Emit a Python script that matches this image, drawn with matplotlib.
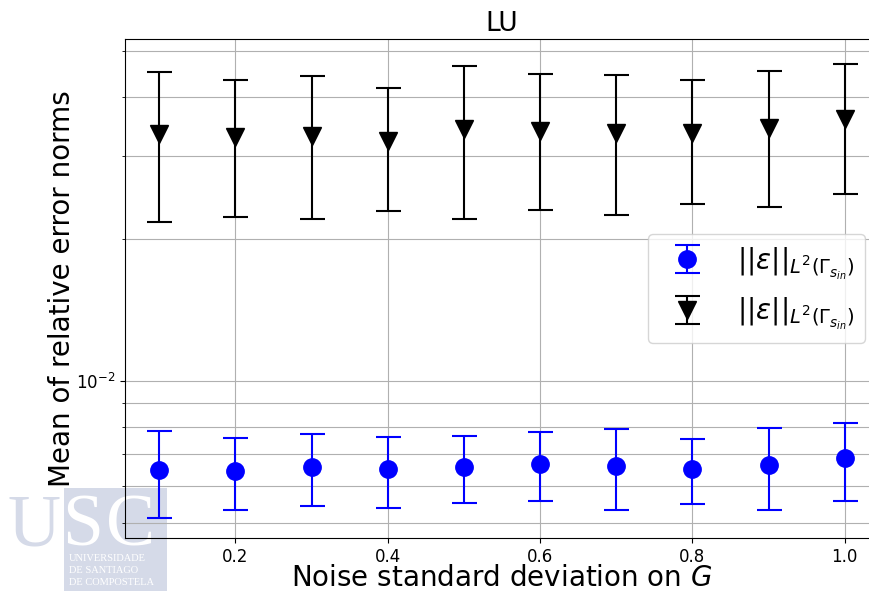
import matplotlib
matplotlib.use("Agg")
import matplotlib.pyplot as plt
from matplotlib.patches import Rectangle
from matplotlib.ticker import NullFormatter

# Noise levels on G
noise_std = [0.1, 0.2, 0.3, 0.4, 0.5, 0.6, 0.7, 0.8, 0.9, 1.0]

# Relative error norms (mean and standard deviation over the runs)
err_blue_mean = [0.00647, 0.00645, 0.00658, 0.00650, 0.00658,
                 0.00668, 0.00662, 0.00651, 0.00664, 0.00686]
err_blue_std = [0.00135, 0.00112, 0.00115, 0.00112, 0.00107,
                0.00111, 0.00129, 0.00102, 0.00130, 0.00128]

err_black_mean = [0.0334, 0.0329, 0.0331, 0.0323, 0.0342,
                  0.0338, 0.0335, 0.0336, 0.0344, 0.0359]
err_black_std = [0.0117, 0.0106, 0.0111, 0.0094, 0.0122,
                 0.0108, 0.0110, 0.0099, 0.0110, 0.0110]

norm_label = r"$||\varepsilon||_{L^2(\Gamma_{s_{in}})}$"

fig = plt.figure(figsize=(8.7, 5.91), dpi=100)
ax = fig.add_axes([0.1437, 0.0897, 0.8667, 0.8443])
ax.set_facecolor("none")

ax.errorbar(noise_std, err_blue_mean, yerr=err_blue_std, fmt="o", color="blue",
            markersize=12.5, capsize=9, elinewidth=1.5, capthick=1.5,
            label=norm_label)
ax.errorbar(noise_std, err_black_mean, yerr=err_black_std, fmt="v", color="black",
            markersize=12.5, capsize=9, elinewidth=1.5, capthick=1.5,
            label=norm_label)

ax.set_yscale("log")
ax.set_ylim(0.004649, 0.05303)
ax.set_xlim(0.055, 1.045)
ax.set_xticks([0.2, 0.4, 0.6, 0.8, 1.0])
ax.yaxis.set_minor_formatter(NullFormatter())
ax.grid(True, which="both")
ax.tick_params(labelsize=12)

ax.set_title("LU", fontsize=19)
ax.set_xlabel("Noise standard deviation on $G$", fontsize=20, labelpad=-1)
ax.set_ylabel("Mean of relative error norms", fontsize=20, labelpad=0)
ax.legend(loc="center right", fontsize=20)

# University logo in the lower-left corner
W, H = 870.0, 591.0
logo_col = "#d5dae8"
fig.add_artist(Rectangle((64 / W, 0), (167 - 64) / W, (591 - 488) / H,
                         transform=fig.transFigure, facecolor=logo_col,
                         edgecolor="none", zorder=-2))
serif = ["Liberation Serif", "DejaVu Serif"]
base = (591 - 545) / H
fig.text(34 / W, base, "U", color=logo_col, fontsize=53, family=serif,
         ha="center", va="baseline", zorder=-1)
fig.text(83 / W, base, "S", color="white", fontsize=53, family=serif,
         ha="center", va="baseline", zorder=-1)
fig.text(131 / W, base, "C", color="white", fontsize=53, family=serif,
         ha="center", va="baseline", zorder=-1)
for row, line in enumerate(["UNIVERSIDADE", "DE SANTIAGO", "DE COMPOSTELA"]):
    fig.text(69 / W, (591 - 561 - 12 * row) / H, line, color="white",
             fontsize=7.5, family=serif, ha="left", va="baseline", zorder=-1)

fig.savefig("out.png", dpi=100)
